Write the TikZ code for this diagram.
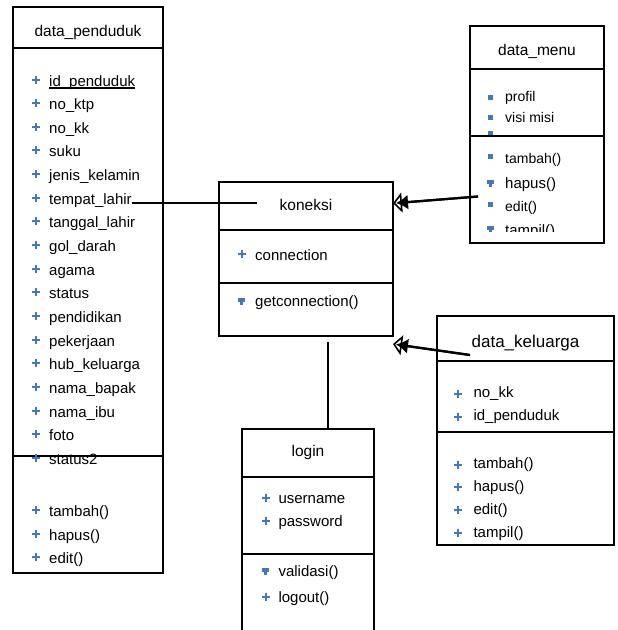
\documentclass[tikz,border=0pt]{standalone}
\usepackage{fontspec}
\setmainfont{Liberation Sans}
\usetikzlibrary{arrows.meta}

\definecolor{iconblue}{RGB}{70,120,185}

\tikzset{
  classbox/.style={draw, line width=1.8pt, inner sep=0pt, outer sep=0pt, anchor=north west},
  sepline/.style={line width=1.5pt},
  item/.style={inner sep=0pt, anchor=base west, font=\fontsize{15}{18}\selectfont},
  smallitem/.style={item, font=\fontsize{14}{16}\selectfont},
  title/.style={inner sep=0pt, anchor=base, font=\fontsize{15.5}{18}\selectfont},
  plusmark/.pic={\draw[iconblue, line width=2pt] (-4,0) -- (4,0) (0,-4) -- (0,4);},
  squaremark/.pic={\fill[iconblue] (-2.5,-2.5) rectangle (2.5,2.5);},
  protmark/.pic={\fill[iconblue] (-3.8,-2.2) rectangle (3.8,1.5);
                 \fill[iconblue] (-1.3,1.4) rectangle (1.3,4.6);},
}

\begin{document}
\begin{tikzpicture}[x=1pt, y=-1pt]
\useasboundingbox (0,0) rectangle (618,630);

% ---------------- data_penduduk ----------------
\node[classbox, minimum width=150pt, minimum height=566pt] (pend) at (13,7) {};
\draw[sepline] (13,48) -- (163,48);
\draw[sepline] (13,456) -- (163,456);
\node[title] (pend-t) at (88,36) {data\_penduduk};
\foreach \t [count=\i from 0] in {id\_penduduk, no\_ktp, no\_kk, suku, jenis\_kelamin,
    tempat\_lahir, tanggal\_lahir, gol\_darah, agama, status, pendidikan, pekerjaan,
    hub\_keluarga, nama\_bapak, nama\_ibu, foto, status2} {
  \node[item] (p-\i) at (49, 86+23.65*\i) {\t};
  \pic at (35.7, 79.5+23.65*\i) {plusmark};
}
\draw[line width=1.4pt] ([yshift=-2pt]p-0.base west) -- ([yshift=-2pt]p-0.base east);
\foreach \t [count=\i from 0] in {tambah(), hapus(), edit()} {
  \node[item] (pm-\i) at (49, 516.7+23.3*\i) {\t};
  \pic at (35.7, 510.2+23.3*\i) {plusmark};
}

% ---------------- koneksi ----------------
\node[classbox, minimum width=174pt, minimum height=154pt] (kon) at (219,182) {};
\draw[sepline] (219,230) -- (393,230);
\draw[sepline] (219,283) -- (393,283);
\node[title] (kon-t) at (306,210) {koneksi};
\node[item] (kon-a) at (255,260.7) {connection};
\pic at (241.7,253.5) {plusmark};
\node[item] (kon-m) at (255,306) {getconnection()};
\pic at (241.5,300) {protmark};

% ---------------- data_menu ----------------
\node[classbox, minimum width=134pt, minimum height=217pt] (menu) at (470,26) {};
\draw[sepline] (470,69) -- (604,69);
\node[title] (menu-t) at (537,55) {data\_menu};
\node[smallitem] (mn-a0) at (505,101.7) {profil};
\pic at (490.5,97) {squaremark};
\node[smallitem] (mn-a1) at (505,122.3) {visi misi};
\pic at (490.5,117) {squaremark};
\begin{scope}
  \clip (470,128) rectangle (604,231.7);
  \pic at (490.5,133.5) {squaremark};
  \node[smallitem] (mn-m0) at (505,163.3) {tambah()};
  \pic at (490.5,156.7) {squaremark};
  \node[item] (mn-m1) at (505,188.3) {hapus()};
  \pic at (490.5,182.5) {protmark};
  \node[smallitem] (mn-m2) at (505,211.7) {edit()};
  \pic at (490.5,204.5) {squaremark};
  \node[item] (mn-m3) at (505,235.5) {tampil()};
  \pic at (490.5,228) {protmark};
\end{scope}
\draw[sepline] (470,136) -- (604,136);

% ---------------- data_keluarga ----------------
\node[classbox, minimum width=177pt, minimum height=229pt] (kel) at (437,316) {};
\draw[sepline] (437,361) -- (614,361);
\draw[sepline] (437,432) -- (614,432);
\node[title, font=\fontsize{17}{20}\selectfont] (kel-t) at (525.5,347) {data\_keluarga};
\foreach \t [count=\i from 0] in {no\_kk, id\_penduduk} {
  \node[item] (ka-\i) at (473.3, 397.5+23.4*\i) {\t};
  \pic at (457.7, 393.5+23.4*\i) {plusmark};
}
\foreach \t [count=\i from 0] in {tambah(), hapus(), edit(), tampil()} {
  \node[item] (km-\i) at (473.3, 468.5+22.9*\i) {\t};
  \pic at (457.7, 464.5+22.9*\i) {plusmark};
}

% ---------------- login ----------------
\node[classbox, minimum width=132pt, minimum height=205pt] (login) at (242,429) {};
\draw[sepline] (242,477) -- (374,477);
\draw[sepline] (242,554) -- (374,554);
\node[title] (login-t) at (308,456.7) {login};
\node[item] (lg-a0) at (278.3,503.3) {username};
\pic at (265.7,497.5) {plusmark};
\node[item] (lg-a1) at (278.3,526.7) {password};
\pic at (265.7,521) {plusmark};
\node[item] (lg-m0) at (278.3,576.7) {validasi()};
\pic at (265.5,570) {protmark};
\node[item] (lg-m1) at (278.3,602.7) {logout()};
\pic at (265.7,596.5) {plusmark};

% ---------------- connectors ----------------
\coordinate (kon-in) at (257,202.8);
\draw[line width=1.4pt] (p-5.base east |- kon-in) -- (kon-in);

\coordinate (menu-out) at (478,196.5);
\coordinate (kon-tip1) at (393,203.3);
\coordinate (kel-out) at (470,355);
\coordinate (kon-tip2) at (393,344);
\foreach \s/\e in {menu-out/kon-tip1, kel-out/kon-tip2} {
  \draw[line width=2.2pt, -{Triangle[open, length=9pt, width=20pt, line width=1.6pt]}] (\s) -- (\e);
  \draw[line width=2.2pt, shorten >=3pt, -{Latex[length=12pt, width=15pt]}] (\s) -- (\e);
}

\coordinate (kon-down) at (328,342);
\draw[line width=2pt] (kon-down) -- (kon-down |- login.north);
\end{tikzpicture}
\end{document}
